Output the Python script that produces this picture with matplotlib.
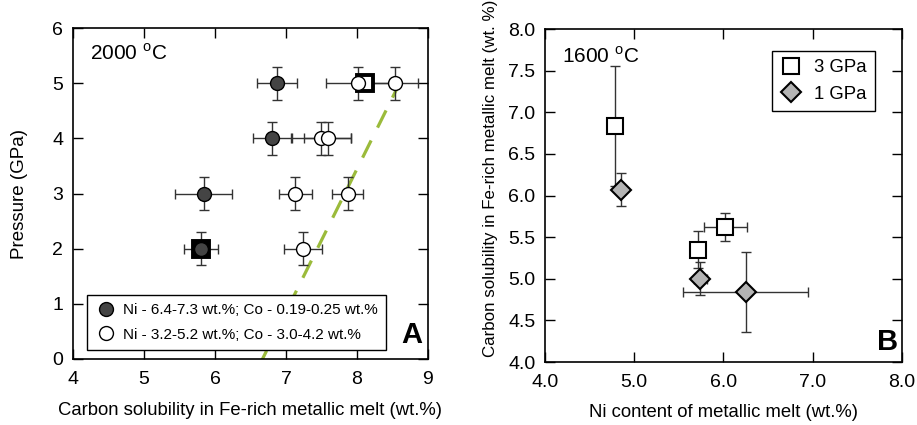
import matplotlib
matplotlib.use("Agg")
import matplotlib.pyplot as plt
from matplotlib.lines import Line2D

plt.rcParams['font.family'] = ['Liberation Sans', 'DejaVu Sans']
plt.rcParams['mathtext.fontset'] = 'custom'
plt.rcParams['mathtext.rm'] = 'Liberation Sans'

# Panel A, 2000 C
filled_c = [6.87, 6.81, 5.84, 5.80]
filled_p = [5, 4, 3, 2]
filled_cerr = [0.28, 0.27, 0.40, 0.24]
filled_perr = [0.3, 0.3, 0.3, 0.3]

open_c = [8.01, 8.54, 7.49, 7.59, 7.13, 7.87, 7.24]
open_p = [5, 5, 4, 4, 3, 3, 2]
open_cerr = [0.45, 0.32, 0.42, 0.33, 0.23, 0.22, 0.27]
open_perr = [0.3, 0.3, 0.3, 0.3, 0.3, 0.3, 0.3]

square_c = [5.80, 8.11]
square_p = [2, 5]
square_fill = ['black', 'white']

# dashed trend, drawn top to bottom
trend_c = [8.62, 6.65]
trend_p = [5.05, -0.05]

# Panel B, 1600 C
gpa3_ni = [4.79, 5.72, 6.02]
gpa3_c = [6.83, 5.35, 5.62]
gpa3_nierr = [0.0, 0.0, 0.24]
gpa3_cerr = [0.72, 0.22, 0.17]

gpa1_ni = [4.85, 5.74, 6.25]
gpa1_c = [6.07, 5.00, 4.84]
gpa1_nierr = [0.05, 0.07, 0.70]
gpa1_cerr = [0.20, 0.20, 0.48]

fig = plt.figure(figsize=(9.17, 4.25), dpi=100)
axA = fig.add_axes([0.0796, 0.1553, 0.3871, 0.7788])
axB = fig.add_axes([0.5943, 0.1482, 0.3893, 0.7835])

ecol = '#333333'
eb = dict(fmt='none', ecolor=ecol, elinewidth=1.0, capsize=3.5, capthick=1.0)

axA.plot(trend_c, trend_p, color='#9bbb3b', lw=2.3, dashes=(6, 4.5), zorder=1)
axA.errorbar(filled_c, filled_p, xerr=filled_cerr, yerr=filled_perr, zorder=2, **eb)
axA.errorbar(open_c, open_p, xerr=open_cerr, yerr=open_perr, zorder=2, **eb)
for c, p, f in zip(square_c, square_p, square_fill):
    axA.plot(c, p, 's', ms=12, mfc=f, mec='black', mew=2.8, zorder=3)
axA.plot(filled_c, filled_p, 'o', ms=10, mfc='#444444', mec='black', mew=1.0, zorder=4)
axA.plot(open_c, open_p, 'o', ms=10, mfc='white', mec='black', mew=1.0, zorder=4)

axA.set_xlim(4, 9)
axA.set_ylim(0, 6)
axA.set_xticks([4, 5, 6, 7, 8, 9])
axA.set_yticks([0, 1, 2, 3, 4, 5, 6])
axA.set_xlabel('Carbon solubility in Fe-rich metallic melt (wt.%)', fontsize=13.3)
axA.set_ylabel('Pressure (GPa)', fontsize=13.5)
axA.xaxis.set_label_coords(0.5, -0.13)
axA.yaxis.set_label_coords(-0.128, 0.5)
axA.text(0.048, 0.905, '2000 $^{\\mathrm{o}}$C', transform=axA.transAxes, fontsize=15, va='baseline')
axA.text(0.985, 0.048, 'A', transform=axA.transAxes, fontsize=21, fontweight='bold', ha='right', va='baseline')
handlesA = [Line2D([], [], ls='none', marker='o', ms=10, mfc='#444444', mec='black'),
            Line2D([], [], ls='none', marker='o', ms=10, mfc='white', mec='black')]
legA = axA.legend(handlesA, ['Ni - 6.4-7.3 wt.%; Co - 0.19-0.25 wt.%',
                             'Ni - 3.2-5.2 wt.%; Co - 3.0-4.2 wt.%'],
                  loc='lower left', bbox_to_anchor=(0.039, 0.027), borderaxespad=0,
                  fontsize=11, fancybox=False, framealpha=1, edgecolor='black',
                  handletextpad=0.4, borderpad=0.55, labelspacing=0.7, handlelength=1.4)
legA.get_frame().set_linewidth(1.0)

axB.errorbar(gpa3_ni, gpa3_c, xerr=gpa3_nierr, yerr=gpa3_cerr, zorder=2, **eb)
axB.errorbar(gpa1_ni, gpa1_c, xerr=gpa1_nierr, yerr=gpa1_cerr, zorder=2, **eb)
axB.plot(gpa3_ni, gpa3_c, 's', ms=11, mfc='white', mec='black', mew=1.5, zorder=3)
axB.plot(gpa1_ni, gpa1_c, 'D', ms=10, mfc='#b4b4b4', mec='black', mew=1.5, zorder=3)

axB.set_xlim(4, 8)
axB.set_ylim(4, 8)
axB.set_xticks([4, 5, 6, 7, 8])
axB.set_yticks([4, 4.5, 5, 5.5, 6, 6.5, 7, 7.5, 8])
axB.xaxis.set_major_formatter('{x:.1f}')
axB.yaxis.set_major_formatter('{x:.1f}')
axB.set_xlabel('Ni content of metallic melt (wt.%)', fontsize=13.3)
axB.set_ylabel('Carbon solubility in Fe-rich metallic melt (wt. %)', fontsize=12.2)
axB.xaxis.set_label_coords(0.5, -0.125)
axB.yaxis.set_label_coords(-0.132, 0.553)
axB.text(0.047, 0.9, '1600 $^{\\mathrm{o}}$C', transform=axB.transAxes, fontsize=15, va='baseline')
axB.text(0.99, 0.036, 'B', transform=axB.transAxes, fontsize=21, fontweight='bold', ha='right', va='baseline')
handlesB = [Line2D([], [], ls='none', marker='s', ms=11, mfc='white', mec='black', mew=1.5),
            Line2D([], [], ls='none', marker='D', ms=10, mfc='#b4b4b4', mec='black', mew=1.5)]
legB = axB.legend(handlesB, ['3 GPa', '1 GPa'], loc='upper right', bbox_to_anchor=(0.924, 0.934),
                  borderaxespad=0, fontsize=13.4, fancybox=False, framealpha=1, edgecolor='black',
                  handletextpad=0.6, borderpad=0.45, labelspacing=0.5, handlelength=1.2)
legB.get_frame().set_linewidth(1.0)

for ax in (axA, axB):
    ax.tick_params(direction='in', top=True, right=True, length=7, width=1.0, labelsize=14)
    ax.tick_params(axis='x', pad=8.5)
    ax.tick_params(axis='y', pad=7)
    for s in ax.spines.values():
        s.set_linewidth(1.2)

fig.savefig('out.png', dpi=100)
